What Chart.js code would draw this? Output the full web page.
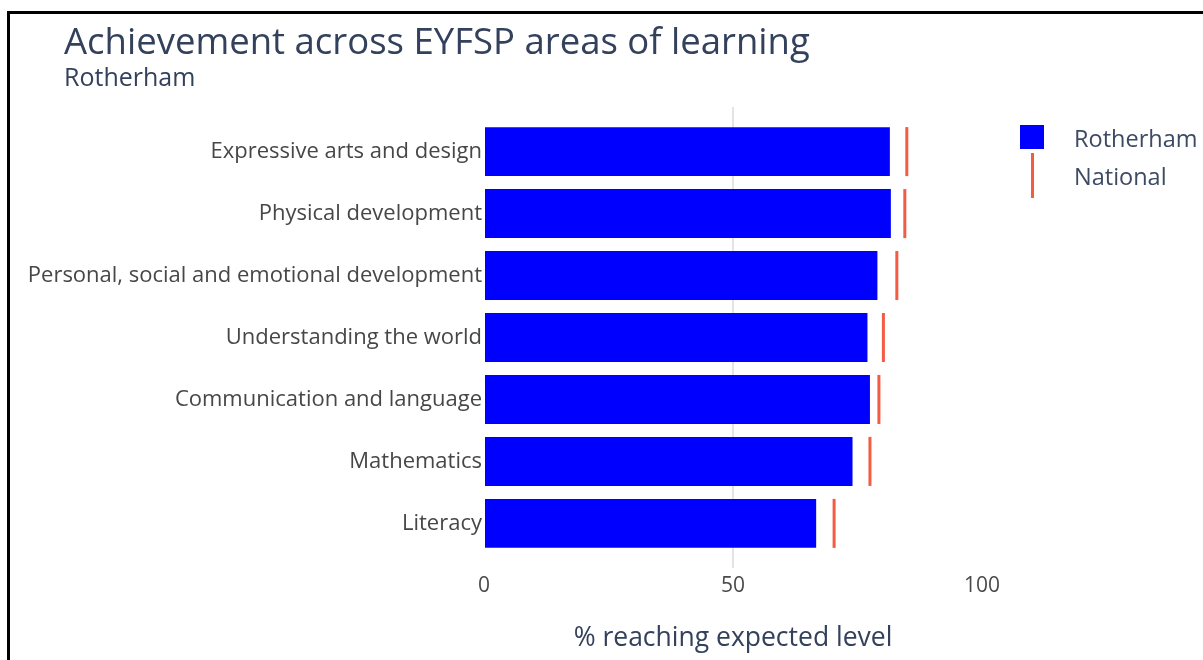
<!DOCTYPE html>
<html>
<head>
<meta charset="utf-8">
<script src="https://cdn.jsdelivr.net/npm/chart.js@4.4.1/dist/chart.umd.min.js"></script>
<style>
    body { margin: 0; background: #fff; font-family: "Open Sans", Lato, sans-serif; }
    #wrap { position: relative; width: 1203px; height: 660px; overflow: hidden; background: #fff; }
    #frame { position: absolute; left: 7px; top: 11px; width: 1300px; height: 800px; border-left: 3px solid #000; border-top: 3px solid #000; }
    canvas { position: absolute; left: 0; top: 0; }
    .title { position: absolute; left: 64px; top: 19px; font-size: 36.5px; line-height: 1.2; color: #33415c; white-space: nowrap; }
    .subtitle { position: absolute; left: 64px; top: 61px; font-size: 25px; line-height: 1.2; color: #33415c; white-space: nowrap; }
    .leg { position: absolute; left: 1074px; font-size: 23.5px; line-height: 1.2; color: #3d4a63; white-space: nowrap; }
    .leg-box { position: absolute; left: 1020px; top: 125px; width: 24px; height: 24px; background: #0000ff; }
    .leg-line { position: absolute; left: 1031px; top: 153px; width: 3px; height: 45px; background: rgb(244, 91, 67); }
</style>
</head>
<body>
<div id="wrap">
    <canvas id="chart" width="1203" height="660"></canvas>
    <div id="frame"></div>
    <div class="title">Achievement across EYFSP areas of learning</div>
    <div class="subtitle">Rotherham</div>
    <div class="leg-box"></div>
    <div class="leg" style="top:124px">Rotherham</div>
    <div class="leg-line"></div>
    <div class="leg" style="top:162px">National</div>
</div>
<script>
// البيانات
const categories = [
    'Expressive arts and design',
    'Physical development',
    'Personal, social and emotional development',
    'Understanding the world',
    'Communication and language',
    'Mathematics',
    'Literacy'
];
const rotherham = [81.5, 81.7, 79.0, 77.0, 77.5, 74.0, 66.7];
const national = [84.9, 84.5, 82.9, 80.2, 79.3, 77.5, 70.3];
const xTicks = [0, 50, 100];

const labelColor = '#474747';
const titleColor = '#33415c';
const fontFamily = '"Open Sans"';

const ctx = document.getElementById('chart').getContext('2d');
const chart = new Chart(ctx, {
    data: {
        datasets: [{
            type: 'bar',
            label: 'Rotherham',
            data: rotherham.map((v, i) => ({ x: v, y: i })),
            backgroundColor: '#0000ff',
            borderWidth: 0,
            categoryPercentage: 1,
            barPercentage: 0.79,
            order: 2
        }, {
            type: 'line',
            label: 'National',
            data: national.map((v, i) => ({ x: v, y: i })),
            showLine: false,
            pointStyle: 'line',
            rotation: 90,
            pointRadius: 24.5,
            pointHoverRadius: 24.5,
            borderColor: 'rgb(244, 91, 67)',
            borderWidth: 3,
            pointBorderWidth: 3,
            order: 1
        }]
    },
    options: {
        indexAxis: 'y',
        responsive: false,
        animation: false,
        layout: { padding: { left: 0, right: 221, top: 107, bottom: 0 } },
        plugins: {
            legend: { display: false },
            tooltip: { enabled: false }
        },
        scales: {
            x: {
                type: 'linear',
                min: 0,
                max: 100,
                afterBuildTicks: s => { s.ticks = xTicks.map(v => ({ value: v })); },
                afterFit: s => { s.height = 92; },
                border: { display: false },
                grid: {
                    drawTicks: false,
                    lineWidth: 2,
                    color: c => c.tick && c.tick.value === 50 ? '#e4e4e4' : 'rgba(0,0,0,0)'
                },
                ticks: {
                    padding: 5,
                    color: '#4a4a4a',
                    font: { family: fontFamily, size: 21 }
                },
                title: {
                    display: true,
                    text: '% reaching expected level',
                    color: titleColor,
                    font: { family: fontFamily, size: 26.5 },
                    padding: { top: 0, bottom: 6 }
                }
            },
            y: {
                type: 'linear',
                offset: false,
                min: -0.72,
                max: 6.72,
                reverse: true,
                afterBuildTicks: s => { s.ticks = categories.map((c, i) => ({ value: i })); },
                afterFit: s => { s.width = 484; },
                border: { display: false },
                grid: { display: false },
                ticks: {
                    padding: -6,
                    color: labelColor,
                    font: { family: fontFamily, size: 22 },
                    callback: v => categories[v]
                }
            }
        }
    }
});
</script>
</body>
</html>
